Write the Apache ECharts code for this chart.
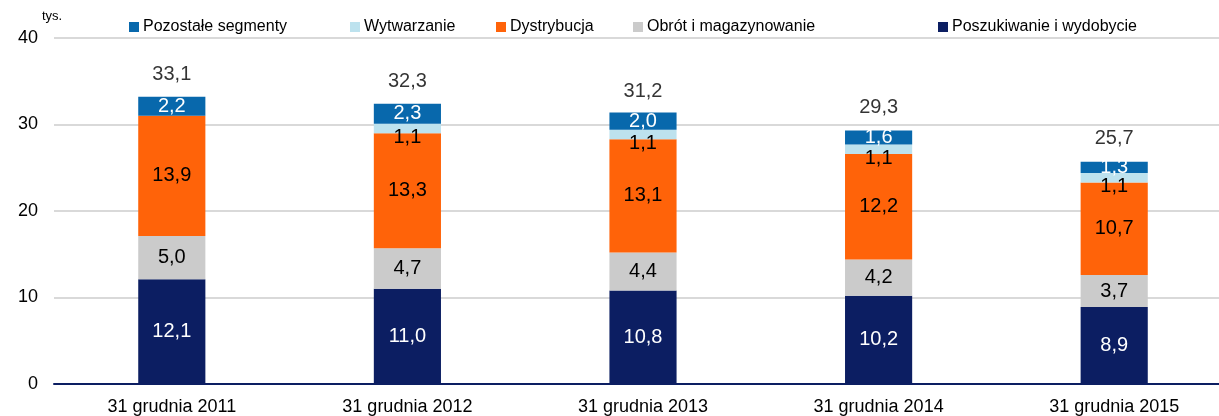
<!DOCTYPE html>
<html>
<head>
<meta charset="utf-8">
<script src="https://cdn.jsdelivr.net/npm/echarts@6/dist/echarts.min.js"></script>
<style>
  html, body { margin: 0; padding: 0; background: #fff; overflow: hidden; }
  #chart { width: 1240px; height: 416px; }
</style>
</head>
<body>
<div id="chart"></div>
<script>
// Zatrudnienie według segmentów (tys. osób)
const categories = ['31 grudnia 2011', '31 grudnia 2012', '31 grudnia 2013', '31 grudnia 2014', '31 grudnia 2015'];
const poszukiwanie = [12.1, 11.0, 10.8, 10.2, 8.9];
const obrot = [5.0, 4.7, 4.4, 4.2, 3.7];
const dystrybucja = [13.9, 13.3, 13.1, 12.2, 10.7];
const wytwarzanie = [null, 1.1, 1.1, 1.1, 1.1];
const pozostale = [2.2, 2.3, 2.0, 1.6, 1.3];
const totals = [33.1, 32.3, 31.2, 29.3, 25.7];
const yTicks = [0, 10, 20, 30, 40];

const FONT = '"Liberation Sans", Arial, sans-serif';
const fmt = v => (v == null ? '' : Number(v).toFixed(1).replace('.', ','));

const colors = {
  poszukiwanie: '#0c1e62',
  obrot: '#cbcbcb',
  dystrybucja: '#ff6309',
  wytwarzanie: '#bde2ee',
  pozostale: '#0868ac'
};

function barSeries(name, data, color, labelColor, extraLabel) {
  return {
    name: name,
    type: 'bar',
    stack: 'all',
    barWidth: '28.5%',
    data: data,
    itemStyle: { color: color },
    label: Object.assign({
      show: true,
      position: 'inside',
      color: labelColor,
      fontFamily: FONT,
      fontSize: 20,
      formatter: p => fmt(p.value)
    }, extraLabel || {}),
    emphasis: { disabled: true }
  };
}

// Legend entries placed individually along the top row
const legendItems = [
  ['Pozostałe segmenty', 129],
  ['Wytwarzanie', 350],
  ['Dystrybucja', 496],
  ['Obrót i magazynowanie', 633],
  ['Poszukiwanie i wydobycie', 938]
];

const option = {
  animation: false,
  backgroundColor: '#fff',
  grid: { left: 54, top: 38, width: 1178, height: 348, containLabel: false },
  legend: legendItems.map(([name, left]) => ({
    data: [name],
    left: left,
    top: 19,
    padding: 0,
    itemWidth: 10,
    itemHeight: 10,
    itemGap: 0,
    icon: 'rect',
    textStyle: { fontFamily: FONT, fontSize: 16, color: '#000', padding: [0, 0, 0, -1] },
    selectedMode: false
  })),
  graphic: [{
    type: 'text',
    left: 42,
    top: 10,
    style: { text: 'tys.', font: '13px ' + FONT, fill: '#000' }
  }],
  xAxis: {
    type: 'category',
    data: categories,
    axisLine: { show: true, lineStyle: { color: '#0c1e62', width: 2 } },
    axisTick: { show: false },
    axisLabel: { fontFamily: FONT, fontSize: 18, color: '#000', margin: 14 }
  },
  yAxis: {
    type: 'value',
    min: yTicks[0],
    max: yTicks[yTicks.length - 1],
    interval: 10,
    axisLine: { show: false },
    axisTick: { show: false },
    splitLine: { lineStyle: { color: '#d9d9d9', width: 2 } },
    axisLabel: { fontFamily: FONT, fontSize: 18, color: '#000', margin: 16 }
  },
  series: [
    barSeries('Poszukiwanie i wydobycie', poszukiwanie, colors.poszukiwanie, '#fff'),
    barSeries('Obrót i magazynowanie', obrot, colors.obrot, '#000'),
    barSeries('Dystrybucja', dystrybucja, colors.dystrybucja, '#000'),
    barSeries('Wytwarzanie', wytwarzanie, colors.wytwarzanie, '#000', { offset: [0, 9] }),
    barSeries('Pozostałe segmenty', pozostale, colors.pozostale, '#fff'),
    {
      name: 'Razem',
      type: 'scatter',
      data: totals,
      symbolSize: 0,
      silent: true,
      label: {
        show: true,
        position: 'top',
        distance: 13,
        color: '#000',
        fontFamily: FONT,
        fontSize: 20,
        formatter: p => fmt(p.value)
      },
      z: 10
    }
  ]
};

echarts.init(document.getElementById('chart'), null, { renderer: 'canvas' }).setOption(option);
</script>
</body>
</html>
